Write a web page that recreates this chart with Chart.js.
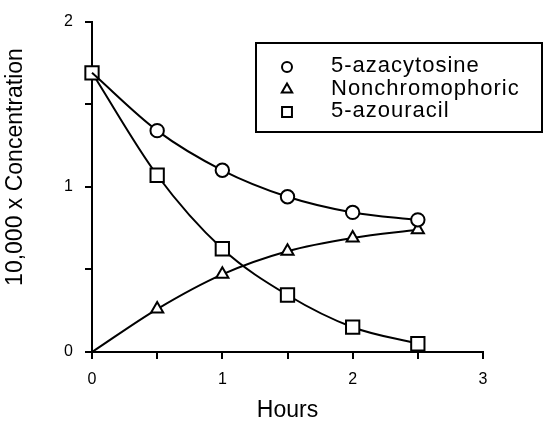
<!DOCTYPE html>
<html>
<head>
<meta charset="utf-8">
<script src="https://cdn.jsdelivr.net/npm/chart.js@4/dist/chart.umd.min.js"></script>
<style>
  html, body { margin: 0; padding: 0; background: #fff; }
</style>
</head>
<body>
<canvas id="concChart" width="545" height="423"></canvas>
<script>
// values
const hours = [0, 0.5, 1, 1.5, 2, 2.5];
const azacytosine = [1.69, 1.34, 1.10, 0.94, 0.845, 0.80];
const nonchromophoric = [0, 0.26, 0.47, 0.61, 0.69, 0.74];
const azouracil = [1.69, 1.07, 0.625, 0.345, 0.15, 0.05];
const seriesNames = ['5-azacytosine', 'Nonchromophoric', '5-azouracil'];
const xTickLabels = ['0', '1', '2', '3'];
const yTickLabels = ['0', '1', '2'];

const FONT = '"Liberation Sans", Arial, Helvetica, sans-serif';
Chart.defaults.font.family = FONT;
Chart.defaults.color = '#000';

const toPoints = ys => hours.map((h, i) => ({ x: h, y: ys[i] }));

const legendSize = { circle: 5, triangle: 6, rect: 7 };

// boxed legend in the top right, like the original
const boxLegend = {
  id: 'boxLegend',
  afterDraw(chart) {
    const ctx = chart.ctx;
    ctx.save();
    ctx.lineWidth = 2;
    ctx.strokeStyle = '#000';
    ctx.strokeRect(256, 43, 286, 89);
    ctx.font = '22px ' + FONT;
    if ('letterSpacing' in ctx) ctx.letterSpacing = '1px';
    ctx.textBaseline = 'alphabetic';
    chart.data.datasets.forEach((ds, i) => {
      const y = 67 + i * 22.5;
      ctx.fillStyle = '#fff';
      ctx.strokeStyle = '#000';
      ctx.lineWidth = 2;
      Chart.helpers.drawPoint(ctx, { pointStyle: ds.pointStyle, radius: legendSize[ds.pointStyle], borderWidth: 2, rotation: 0 }, 287, y);
      ctx.fillStyle = '#000';
      ctx.fillText(ds.label, 331, y + 5);
    });
    ctx.restore();

    // y axis title, sits a little above the middle of the axis
    ctx.save();
    ctx.translate(16, 167);
    ctx.rotate(-Math.PI / 2);
    ctx.font = '23px ' + FONT;
    ctx.fillStyle = '#000';
    ctx.textAlign = 'center';
    ctx.textBaseline = 'middle';
    ctx.fillText('10,000 x Concentration', 0, 0);
    ctx.restore();
  }
};

const lineStyle = {
  borderColor: '#000',
  borderWidth: 2,
  backgroundColor: '#fff',
  pointBorderColor: '#000',
  pointBackgroundColor: '#fff',
  pointBorderWidth: 2,
  cubicInterpolationMode: 'monotone',
  clip: false
};

const ctx = document.getElementById('concChart').getContext('2d');
const concChart = new Chart(ctx, {
  type: 'line',
  data: {
    datasets: [
      { ...lineStyle, label: seriesNames[0], data: toPoints(azacytosine), pointStyle: 'circle',
        pointRadius: c => c.dataIndex === 0 ? 0 : 6.7 },
      { ...lineStyle, label: seriesNames[1], data: toPoints(nonchromophoric), pointStyle: 'triangle',
        pointRadius: c => c.dataIndex === 0 ? 0 : 7 },
      { ...lineStyle, label: seriesNames[2], data: toPoints(azouracil), pointStyle: 'rect',
        pointRadius: 9.4 }
    ]
  },
  options: {
    responsive: false,
    animation: false,
    layout: { padding: { left: 0, top: 19, right: 62, bottom: 0 } },
    plugins: {
      legend: { display: false },
      tooltip: { enabled: false }
    },
    scales: {
      x: {
        type: 'linear',
        min: 0,
        max: 3,
        afterFit: s => { s.height = 71; },
        border: { display: true, color: '#000', width: 2 },
        grid: { drawOnChartArea: false, drawTicks: true, tickLength: 7, color: '#000', lineWidth: 2 },
        ticks: {
          stepSize: 0.5,
          padding: 11,
          maxRotation: 0,
          autoSkip: false,
          font: { size: 16, family: FONT },
          callback: v => Number.isInteger(v) ? xTickLabels[v] : ''
        },
        title: {
          display: true,
          text: 'Hours',
          font: { size: 23, lineHeight: 1 },
          padding: { top: 0, bottom: 1 }
        }
      },
      y: {
        min: 0,
        max: 2,
        afterFit: s => { s.width = 92; },
        border: { display: true, color: '#000', width: 2 },
        grid: { drawOnChartArea: false, drawTicks: true, tickLength: 7, color: '#000', lineWidth: 2 },
        ticks: {
          stepSize: 0.5,
          padding: 12,
          autoSkip: false,
          font: { size: 16, family: FONT },
          callback: v => Number.isInteger(v) ? yTickLabels[v] : ''
        }
      }
    }
  },
  plugins: [boxLegend]
});
</script>
</body>
</html>
